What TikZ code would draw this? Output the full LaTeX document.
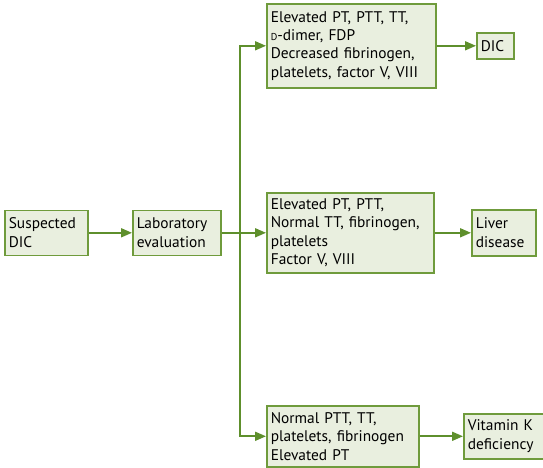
\documentclass[tikz,border=0pt]{standalone}
\usepackage{fontspec}
\setmainfont{PT Sans}
\usetikzlibrary{arrows.meta}
\definecolor{boxfill}{HTML}{E9EFDF}
\definecolor{boxline}{HTML}{6F9B3C}
\definecolor{linkgreen}{HTML}{5E8F2C}
\newcommand{\smallD}{{\fontsize{10pt}{10pt}\selectfont D}}
\begin{document}
\begin{tikzpicture}[x=1pt,y=-1pt,
  box/.style={draw=boxline,fill=boxfill,line width=1.6pt,anchor=north west,
    inner xsep=4pt,inner ysep=0pt,align=left,font=\fontsize{15.4pt}{18.4pt}\selectfont},
  link/.style={draw=linkgreen,line width=1.8pt,-{Triangle[length=11pt,width=9pt]}}]
\useasboundingbox (0,0) rectangle (543,468);
% boxes: top-left corner, text width = box width - 8, minimum height = box height
\node[box,text width=75pt,minimum height=45pt] (sus) at (4,209.5) {Suspected\\DIC};
\node[box,text width=80pt,minimum height=45pt] (lab) at (132,209.5) {Laboratory\\evaluation};
\node[box,text width=161pt,minimum height=84pt] (r1) at (266,3)
  {Elevated PT, PTT, TT,\\\smallD-dimer, FDP\\Decreased fibrinogen,\\platelets, factor V, VIII};
\node[box,text width=159pt,minimum height=80pt] (r2) at (266,192)
  {Elevated PT, PTT,\\Normal TT, fibrinogen,\\platelets\\Factor V, VIII};
\node[box,text width=144pt,minimum height=61pt] (r3) at (266,405)
  {Normal PTT, TT,\\platelets, fibrinogen\\Elevated PT};
\node[box,text width=29pt,minimum height=26pt] (dic) at (476,32) {DIC};
\node[box,text width=56pt,minimum height=46pt] (liver) at (471,209) {Liver\\disease};
\node[box,text width=72pt,minimum height=45pt] (vitk) at (463,413) {Vitamin K\\deficiency};
% connectors
\draw[link] (sus) -- (lab);
\draw[link] (lab) -- (r2);
\coordinate (split) at (240,232);
\draw[link] (split) |- (r1);
\draw[link] (split) |- (r3);
\draw[link] (r1) -- (dic);
\draw[link] (r2) -- (liver);
\draw[link] (r3) -- (vitk);
\end{tikzpicture}
\end{document}
